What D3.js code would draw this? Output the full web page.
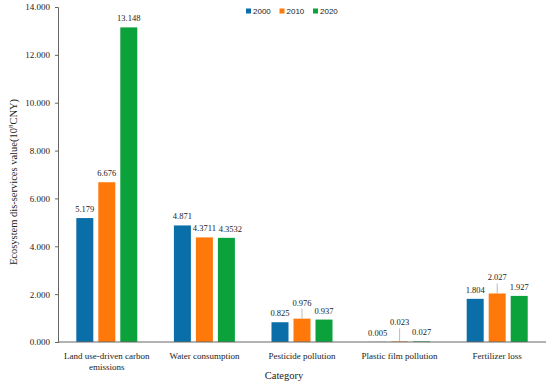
<!DOCTYPE html>
<html>
<head>
<meta charset="utf-8">
<script src="https://cdn.jsdelivr.net/npm/d3@7"></script>
<style>
  body { margin: 0; background: #fff; }
  svg text { font-family: "Liberation Serif", "DejaVu Serif", serif; fill: #222; }
</style>
</head>
<body>
<script>
// chart data
var categories = ["Land use-driven carbon emissions", "Water consumption", "Pesticide pollution", "Plastic film pollution", "Fertilizer loss"];
var years = ["2000", "2010", "2020"];
var values2000 = [5.179, 4.871, 0.825, 0.005, 1.804];
var values2010 = [6.676, 4.3711, 0.976, 0.023, 2.027];
var values2020 = [13.148, 4.3532, 0.937, 0.027, 1.927];
var labels2000 = ["5.179", "4.871", "0.825", "0.005", "1.804"];
var labels2010 = ["6.676", "4.3711", "0.976", "0.023", "2.027"];
var labels2020 = ["13.148", "4.3532", "0.937", "0.027", "1.927"];
var yTicks = [0, 2, 4, 6, 8, 10, 12, 14];

var width = 550, height = 383;
var margin = {left: 58, right: 4, top: 7, bottom: 41};
var drawWidth = width - margin.left - margin.right,
    drawHeight = height - margin.top - margin.bottom;

var colors = {"2000": "#0a6ea8", "2010": "#ff780a", "2020": "#0ba23c"};

// labels that excel pushed up with a leader line (category index, year)
var raised = {"2:2010": 13, "3:2010": 16, "4:2010": 13};
// labels nudged sideways so they don't collide
var nudged = {"1:2020": 4};

var table = [];
categories.forEach(function(c, i) {
    [values2000, values2010, values2020].forEach(function(vals, j) {
        var lab = [labels2000, labels2010, labels2020][j][i];
        table.push({cat: c, ci: i, year: years[j], value: vals[i], label: lab});
    });
});

var svg = d3.select("body").append("svg")
    .attr("width", width)
    .attr("height", height);

var g = svg.append("g")
    .attr("transform", "translate(" + margin.left + "," + margin.top + ")");

var x0 = d3.scaleBand().domain(categories).range([0, drawWidth]).padding(0);
var x1 = d3.scaleBand().domain(years).range([-30.5, 30.5]).paddingInner(5 / 22);
var y = d3.scaleLinear().domain([0, 14]).range([drawHeight, 0]);

// y axis
var yAxis = g.append("g")
    .call(d3.axisLeft(y).tickValues(yTicks).tickFormat(d3.format(".3f")).tickSize(3).tickPadding(5));
yAxis.attr("font-family", null);
yAxis.select(".domain").attr("stroke", "#666");
yAxis.selectAll(".tick line").attr("stroke", "#666");
yAxis.selectAll("text").style("font-size", "9px").attr("fill", "#222");

// bars
g.selectAll(".bar")
    .data(table)
    .enter().append("rect")
    .attr("class", "bar")
    .attr("x", function(d) { return x0(d.cat) + x0.bandwidth() / 2 + x1(d.year); })
    .attr("width", x1.bandwidth())
    .attr("y", function(d) { return y(d.value); })
    .attr("height", function(d) { return drawHeight - y(d.value); })
    .attr("fill", function(d) { return colors[d.year]; });

// value labels
table.forEach(function(d) {
    var cx = x0(d.cat) + x0.bandwidth() / 2 + x1(d.year) + x1.bandwidth() / 2;
    var top = y(d.value);
    var key = d.ci + ":" + d.year;
    var off = raised[key] ? raised[key] : 6;
    if (raised[key]) {
        g.append("line")
            .attr("x1", cx).attr("x2", cx)
            .attr("y1", top - off + 3).attr("y2", top)
            .attr("stroke", "#aaa").attr("stroke-width", 0.8);
    }
    g.append("text")
        .attr("x", cx + (nudged[key] || 0))
        .attr("y", top - off)
        .attr("text-anchor", "middle")
        .style("font-size", "8.5px")
        .text(d.label);
});

// x axis line (no ticks)
g.append("line")
    .attr("x1", 0).attr("x2", drawWidth)
    .attr("y1", drawHeight).attr("y2", drawHeight)
    .attr("stroke", "#666");

// category labels, wrapped like the original
var wrapped = {"Land use-driven carbon emissions": ["Land use-driven carbon", "emissions"]};
categories.forEach(function(c) {
    var lines = wrapped[c] || [c];
    var t = g.append("text")
        .attr("x", x0(c) + x0.bandwidth() / 2)
        .attr("y", drawHeight + 17)
        .attr("text-anchor", "middle")
        .style("font-size", "9px");
    lines.forEach(function(l, k) {
        t.append("tspan")
            .attr("x", x0(c) + x0.bandwidth() / 2)
            .attr("dy", k === 0 ? 0 : 11)
            .text(l);
    });
});

// axis titles
svg.append("text")
    .attr("x", 284)
    .attr("y", 379)
    .attr("text-anchor", "middle")
    .style("font-size", "10.5px")
    .text("Category");

var yt = svg.append("text")
    .attr("transform", "translate(17," + 182 + ") rotate(-90)")
    .attr("text-anchor", "middle")
    .style("font-size", "10.5px");
yt.append("tspan").text("Ecosystem dis-services value(10");
yt.append("tspan").attr("dy", -4).style("font-size", "7px").text("8");
yt.append("tspan").attr("dy", 4).text("CNY)");

// legend
var legend = svg.append("g").attr("transform", "translate(246,11)");
years.forEach(function(yr, i) {
    var lg = legend.append("g").attr("transform", "translate(" + (i * 33.5) + ",0)");
    lg.append("rect").attr("x", 0).attr("y", -2.5).attr("width", 5).attr("height", 5).attr("fill", colors[yr]);
    lg.append("text").attr("x", 7).attr("y", 3)
        .style("font-family", "'Liberation Sans', 'Open Sans', sans-serif")
        .style("font-size", "8px")
        .text(yr);
});
</script>
</body>
</html>
